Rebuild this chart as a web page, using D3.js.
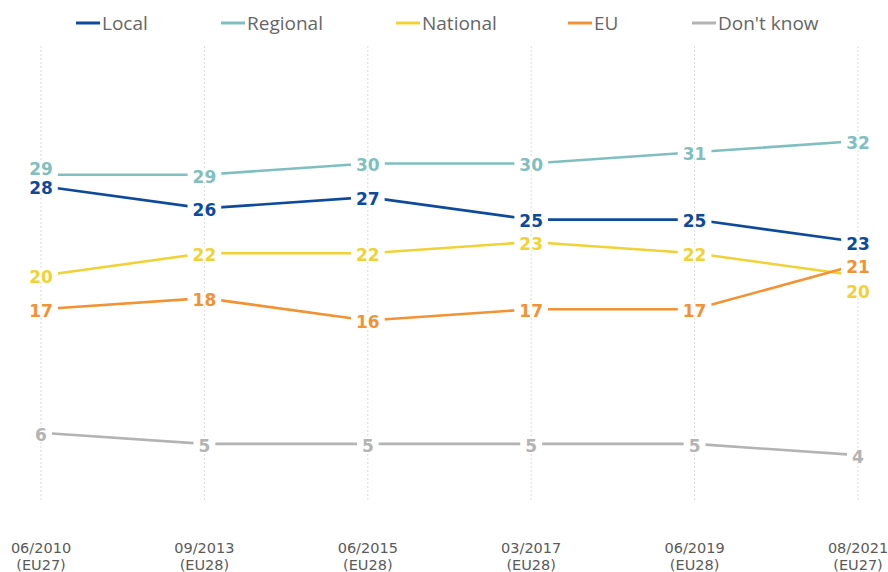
<!DOCTYPE html>
<html>
<head>
<meta charset="utf-8">
<script src="https://cdn.jsdelivr.net/npm/d3@7/dist/d3.min.js"></script>
<style>
  html, body { margin: 0; padding: 0; background: #fff; }
  svg { display: block; }
</style>
</head>
<body>
<svg id="chart" width="888" height="572"></svg>
<script>
// Survey waves
const waves = ["06/2010", "09/2013", "06/2015", "03/2017", "06/2019", "08/2021"];
const waveScopes = ["(EU27)", "(EU28)", "(EU28)", "(EU28)", "(EU28)", "(EU27)"];

// Share of answers per level (%)
const local      = [28, 26, 27, 25, 25, 23];
const regional   = [29, 29, 30, 30, 31, 32];
const national   = [20, 22, 22, 23, 22, 20];
const eu         = [17, 18, 16, 17, 17, 21];
const dontKnow   = [6, 5, 5, 5, 5, 4];

const seriesNames  = ["Local", "Regional", "National", "EU", "Don't know"];
const seriesValues = [local, regional, national, eu, dontKnow];
const seriesColors = ["#0e4a9c", "#7fbfc0", "#f0d236", "#f39232", "#b3b3b3"];

// Vertical nudges for labels that would otherwise collide: [series, wave, dy]
const labelNudges = [[1, 0, -8], [2, 5, 15], [3, 5, 1]];

const svg = d3.select("#chart");

const x = d3.scalePoint().domain(d3.range(waves.length)).range([41, 858]);
const y = d3.scaleLinear().domain([0, 30]).range([500, 163.5]);

// Dotted vertical guides
svg.append("g").selectAll("line")
  .data(d3.range(waves.length))
  .join("line")
  .attr("x1", i => x(i)).attr("x2", i => x(i))
  .attr("y1", 46).attr("y2", 500)
  .attr("stroke", "#dcdcdc")
  .attr("stroke-width", 1)
  .attr("stroke-dasharray", "2,2");

// Category labels along the bottom
const xAxis = svg.append("g").attr("font-family", "'DejaVu Sans', Verdana, sans-serif")
  .attr("font-size", 14.5).attr("fill", "#5a5a5a").attr("text-anchor", "middle");
waves.forEach((w, i) => {
  const t = xAxis.append("text").attr("x", x(i)).attr("y", 553);
  t.append("tspan").attr("x", x(i)).text(w);
  t.append("tspan").attr("x", x(i)).attr("dy", 17).text(waveScopes[i]);
});

// Lines
const line = d3.line().x((d, i) => x(i)).y(d => y(d));
svg.append("g").selectAll("path")
  .data(seriesValues)
  .join("path")
  .attr("d", d => line(d))
  .attr("fill", "none")
  .attr("stroke", (d, k) => seriesColors[k])
  .attr("stroke-width", 2.6)
  .attr("stroke-linejoin", "round");

// Value labels on a white plate that opens a gap in the line
const labels = svg.append("g");
seriesValues.forEach((vals, k) => {
  vals.forEach((v, i) => {
    const nudge = labelNudges.find(n => n[0] === k && n[1] === i);
    const dy = nudge ? nudge[2] : 0;
    const g = labels.append("g");
    const rect = g.append("rect").attr("fill", "#fff");
    const t = g.append("text")
      .attr("x", x(i))
      .attr("y", y(v) + dy + 7.8)
      .attr("text-anchor", "middle")
      .attr("font-family", "'DejaVu Sans', Verdana, sans-serif")
      .attr("font-weight", "bold")
      .attr("font-size", 17)
      .attr("fill", seriesColors[k])
      .text(v);
    const b = t.node().getBBox();
    // plate spans both the label and the point it belongs to
    const top = Math.min(y(v), y(v) + dy) - 6;
    const bottom = Math.max(y(v), y(v) + dy) + 6;
    rect.attr("x", b.x - 5).attr("y", top)
      .attr("width", b.width + 10).attr("height", bottom - top);
  });
});

// Legend
const legendX = [76, 221, 396, 568, 692];
const legend = svg.append("g").attr("font-family", "'Open Sans', sans-serif")
  .attr("font-size", 19).attr("fill", "#666");
seriesNames.forEach((name, k) => {
  legend.append("line")
    .attr("x1", legendX[k]).attr("x2", legendX[k] + 24)
    .attr("y1", 23).attr("y2", 23)
    .attr("stroke", seriesColors[k]).attr("stroke-width", 3);
  legend.append("text")
    .attr("x", legendX[k] + 26).attr("y", 30)
    .text(name);
});
</script>
</body>
</html>
